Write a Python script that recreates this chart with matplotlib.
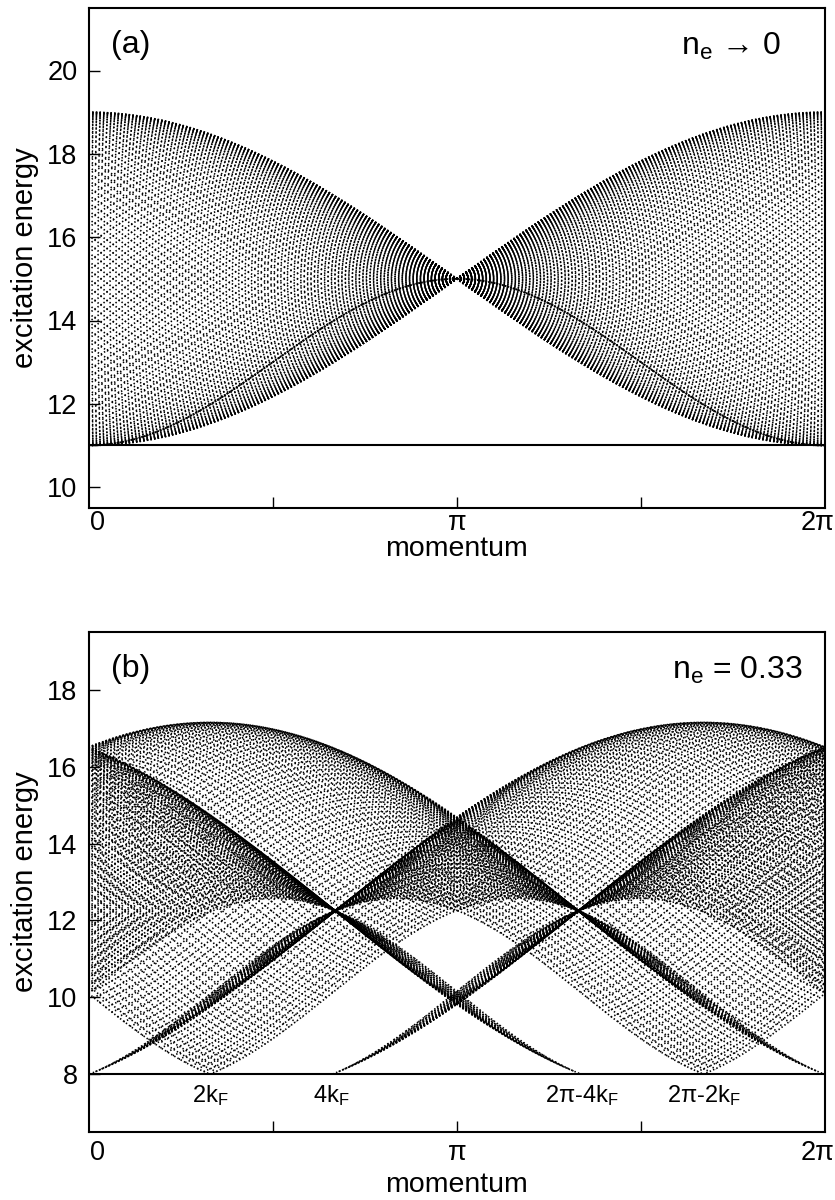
import numpy as np
import matplotlib
matplotlib.use("Agg")
import matplotlib.pyplot as plt
from matplotlib.transforms import blended_transform_factory, offset_copy

# ---------------- values ----------------
n_curves = 120                        # particle momenta p = 2*pi*j/n_curves (one dotted curve each)
n_kpts = 1600                         # sampling of each curve along the momentum axis
# panel (a): n_e -> 0
a_n_e = 0.0
a_center = 15.0                       # pinch point at k = pi
a_hop = 2.0                           # band amplitude of each particle (11 ... 19)
a_threshold = 11.0                    # horizontal line
a_dark_p = [1.0]                      # curve drawn dark in the reference (p = pi)
a_ylim = [9.5, 21.5]
a_yticks = [10, 12, 14, 16, 18, 20]
# panel (b): n_e = 0.33
b_n_e = 0.33
b_center = 12.25                      # pinch points at pi -/+ 2kF
b_hop = 2.45                          # top of arches ~17.15
b_threshold = 8.0
b_ylim = [6.5, 19.5]
b_yticks = [8, 10, 12, 14, 16, 18]
b_shifts_2kF = [1, -1]                # total momentum shifted by +/- 2kF
x_tick_pos = [0.5, 1.0, 1.5]          # units of pi (inner ticks)
x_labels = ["0", "π", "2π"]
x_label_pos = [0.0, 1.0, 2.0]
x_label_dx = [9, 1, -7]               # pixel nudges of the labels
kf_labels = ["2k$_\\mathregular{F}$", "4k$_\\mathregular{F}$",
             "2π-4k$_\\mathregular{F}$", "2π-2k$_\\mathregular{F}$"]
kf_label_pos = [0.33, 0.66, 1.34, 1.67]   # units of pi

plt.rcParams['font.family'] = ['Liberation Sans', 'DejaVu Sans']
plt.rcParams['mathtext.fontset'] = 'custom'
plt.rcParams['mathtext.rm'] = 'Liberation Sans'
plt.rcParams['mathtext.it'] = 'Liberation Sans'

fig = plt.figure(figsize=(8.35, 12.0), dpi=100)
ax_a = fig.add_axes([88.5/835, 1-508/1200, (825-88.5)/835, 500/1200])
ax_b = fig.add_axes([88.5/835, 1-1132/1200, (825-88.5)/835, 500/1200])

k = np.linspace(0, 2*np.pi, n_kpts)
p_list = 2*np.pi*np.arange(n_curves)/n_curves

def dist_to_pi(x):
    """distance of a momentum from pi (bottom of the band), in [0, pi]"""
    return np.abs(np.mod(x, 2*np.pi) - np.pi)

dotted = dict(color='k', lw=1.2, linestyle=(0, (0.85, 1.35)),
              dash_capstyle='butt', solid_capstyle='butt')
dense = dict(color='k', lw=1.4, linestyle=(0, (1.0, 0.45)),
             dash_capstyle='butt', solid_capstyle='butt')

def family_curve(center, hop, n_e, shift, p):
    kf = np.pi*n_e/2.0
    q = k - shift - p
    E = center + hop*np.cos(p) + hop*np.cos(q)
    return np.where(dist_to_pi(q) >= kf - 1e-9, E, np.nan)

def draw_family(ax, center, hop, n_e, shift):
    kf = np.pi*n_e/2.0
    for p in p_list:
        if dist_to_pi(p) < kf - 1e-9:
            continue
        ax.plot(k/np.pi, family_curve(center, hop, n_e, shift, p), **dotted)

# panel (a)
draw_family(ax_a, a_center, a_hop, a_n_e, 0.0)
for pd in a_dark_p:
    ax_a.plot(k/np.pi, family_curve(a_center, a_hop, a_n_e, 0.0, pd*np.pi), **dense)
ax_a.axhline(a_threshold, color='k', lw=1.5)

# panel (b)
twokf = np.pi*b_n_e
for sh in b_shifts_2kF:
    draw_family(ax_b, b_center, b_hop, b_n_e, sh*twokf)
ax_b.axhline(b_threshold, color='k', lw=1.5)

for ax, yl, yt, tick_off, lab_off in [(ax_a, a_ylim, a_yticks, 2, 28),
                                      (ax_b, b_ylim, b_yticks, 8, 40)]:
    ax.set_xlim(0, 2)
    ax.set_ylim(*yl)
    ax.set_yticks(yt)
    ax.set_xticks(x_tick_pos)
    ax.set_xticklabels([])
    ax.tick_params(direction='in', length=8, width=1.0, labelsize=19.5,
                   top=False, right=False)
    ax.tick_params(axis='y', pad=8)
    for s in ax.spines.values():
        s.set_linewidth(1.5)
        s.set_zorder(5)
    tr = blended_transform_factory(ax.transData, ax.transAxes)
    for xv, lab, dx in zip(x_label_pos, x_labels, x_label_dx):
        ax.text(xv, 0, lab, fontsize=19.5, ha='center', va='top',
                transform=offset_copy(tr, fig=fig, x=dx, y=-tick_off, units='dots'))
    ax.text(1.0, 0, "momentum", fontsize=20.5, ha='center', va='top',
            transform=offset_copy(tr, fig=fig, x=0, y=-lab_off, units='dots'))
    ax.set_ylabel("excitation energy", fontsize=21, labelpad=6)

ax_a.text(0.03, 0.955, "(a)", transform=ax_a.transAxes, fontsize=23,
          va='top', ha='left')
ax_a.text(0.94, 0.955, "n$_\\mathregular{e}$ → 0", transform=ax_a.transAxes,
          fontsize=23, va='top', ha='right')
ax_b.text(0.03, 0.955, "(b)", transform=ax_b.transAxes, fontsize=23,
          va='top', ha='left')
ax_b.text(0.97, 0.955, "n$_\\mathregular{e}$ = 0.33", transform=ax_b.transAxes,
          fontsize=23, va='top', ha='right')
for lab, xp in zip(kf_labels, kf_label_pos):
    ax_b.text(xp, 7.45, lab, fontsize=17, ha='center', va='center')

fig.savefig("out.png", dpi=100)
